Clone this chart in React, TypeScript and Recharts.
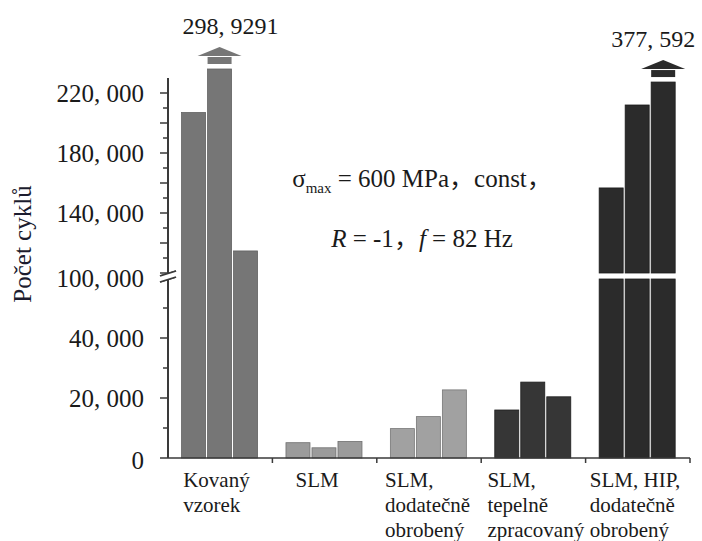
import React from 'react';
import { BarChart, Bar, XAxis, YAxis, LabelList } from 'recharts';

const categories = [
  'Kovaný\nvzorek',
  'SLM',
  'SLM,\ndodatečně\nobrobený',
  'SLM,\ntepelně\nzpracovaný',
  'SLM, HIP,\ndodatečně\nobrobený',
];

// počet cyklů, tři vzorky v každé skupině
const vzorek1 = [207000, 5100, 9800, 16000, 156700];
const vzorek2 = [298929, 3400, 13800, 25300, 212000];
const vzorek3 = [114700, 5500, 22700, 20400, 377592];

// sloupce useknuté nad horním koncem osy: kreslená výška + popisek u šipky
const useknuto2 = [236000, null, null, null, null];
const useknuto3 = [null, null, null, null, 227300];
const popisek2 = ['298, 9291', '', '', '', ''];
const popisek3 = ['', '', '', '', '377, 592'];

const majorTicks = [0, 20000, 40000, 100000, 120000, 140000, 160000, 180000, 200000, 220000];
const minorTicks = [10000, 30000, 50000, 110000, 130000, 150000, 170000, 190000, 210000];
const labeledTicks = [0, 20000, 40000, 100000, 140000, 180000, 220000];

const fills = ['#767676', '#9b9b9b', '#a1a1a1', '#363636', '#2b2b2b'];
const strokes = ['#626262', '#6f6f6f', '#777777', '#1f1f1f', '#1b1b1b'];
const hasBreak = [false, false, false, false, true];
const labelDx = [-37, -29, -44, -46, -48];
const arrowTextDx = [11, 0, 0, 0, -10];

// geometrie
const W = 702;
const H = 541;
const M_TOP = 69;
const PLOT_H = 389;
const Y_MAX = 389;
const AXIS_TOP = 380;
const AXIS_X = 168;
const PLOT_W = 522;
const X_AXIS_H = H - M_TOP - PLOT_H;
const AXIS_Y = M_TOP + PLOT_H;
const BAND = PLOT_W / categories.length;
const PX = PLOT_H / Y_MAX;
const SERIF = 'Liberation Serif, DejaVu Serif, serif';
const CJK = 'Noto Sans CJK SC, sans-serif';
const INK = '#1a1a1a';
const AXIS_COLOR = '#3a3a3a';

// přerušená osa: dole 0–60 000 (3 j./1000), nahoře od 100 000 (1,5 j./1000)
const BREAK_VALUE = 100000;
const toUnits = (v: number) => (v <= 60000 ? (v * 3) / 1000 : 185 + ((v - BREAK_VALUE) * 1.5) / 1000);
const BREAK_HI = toUnits(BREAK_VALUE);
const BREAK_LO = BREAK_HI - 6;

const fmt = (v: number) =>
  v === 0 ? '0' : `${Math.floor(v / 1000)}, ${String(v % 1000).padStart(3, '0')}`;

const tickValues = [...majorTicks, ...minorTicks];
const unitsToValue = new Map(tickValues.map((v) => [Math.round(toUnits(v) * 100), v]));

const data = categories.map((name, i) => ({
  name,
  idx: i,
  a: toUnits(vzorek1[i]),
  b: toUnits(useknuto2[i] ?? vzorek2[i]),
  c: toUnits(useknuto3[i] ?? vzorek3[i]),
  bNote: popisek2[i],
  cNote: popisek3[i],
}));

// svislá osa s přerušením (pruh od nuly po horní konec osy)
const AxisLine = () => {
  const yb = AXIS_Y - BREAK_HI * PX;
  return (
    <g>
      <rect x={AXIS_X - 1} y={AXIS_Y - AXIS_TOP * PX} width={2} height={AXIS_TOP * PX} fill={AXIS_COLOR} />
      <polygon
        points={`${AXIS_X - 8},${yb + 3} ${AXIS_X + 8},${yb - 2} ${AXIS_X + 8},${yb + 4} ${AXIS_X - 8},${yb + 9}`}
        fill="#fff"
      />
      <line x1={AXIS_X - 8} y1={yb + 3} x2={AXIS_X + 8} y2={yb - 2} stroke={AXIS_COLOR} strokeWidth={1.6} />
      <line x1={AXIS_X - 8} y1={yb + 9} x2={AXIS_X + 8} y2={yb + 4} stroke={AXIS_COLOR} strokeWidth={1.6} />
    </g>
  );
};

const renderYTick = (props: any) => {
  const y = Number(props.y);
  const units = props.payload.value;
  const v = unitsToValue.get(Math.round(units * 100)) ?? 0;
  const major = majorTicks.includes(v);
  const len = major ? 8 : 5;
  const showLabel = labeledTicks.includes(v);
  const dy = v === BREAK_VALUE ? 14 : v === 0 ? 11 : 9;
  return (
    <g>
      <line x1={AXIS_X - len} x2={AXIS_X} y1={y} y2={y} stroke={AXIS_COLOR} strokeWidth={1.5} />
      {showLabel && (
        <text x={AXIS_X - 24} y={y + dy} textAnchor="end" fontFamily={SERIF} fontSize={25} fill={INK}>
          {fmt(v)}
        </text>
      )}
      {v === 0 && <AxisLine />}
    </g>
  );
};

const renderXTick = (props: any) => {
  const x = Number(props.x);
  const { payload, index } = props;
  const lines = String(payload.value).split('\n');
  const right = x + BAND / 2;
  return (
    <g>
      <line x1={right} x2={right} y1={AXIS_Y} y2={AXIS_Y + 5} stroke={AXIS_COLOR} strokeWidth={1.5} />
      <text x={x + labelDx[index]} y={AXIS_Y + 29} fontFamily={SERIF} fontSize={21} fill={INK}>
        {lines.map((l, k) => (
          <tspan key={k} x={x + labelDx[index]} dy={k === 0 ? 0 : 25}>
            {l}
          </tspan>
        ))}
      </text>
    </g>
  );
};

const renderBar = (props: any) => {
  const { x, y, width, height, payload } = props;
  if (!height || height <= 0) return <g />;
  const i = payload.idx;
  const style = { fill: fills[i], stroke: strokes[i], strokeWidth: 0.8 };
  if (hasBreak[i] && height > BREAK_HI * PX) {
    const base = y + height;
    return (
      <g>
        <rect x={x} y={y} width={width} height={height - BREAK_HI * PX} {...style} />
        <rect x={x} y={base - BREAK_LO * PX} width={width} height={BREAK_LO * PX} {...style} />
      </g>
    );
  }
  return <rect x={x} y={y} width={width} height={height} {...style} />;
};

const arrowContent = (labels: string[]) => (p: any) => {
  if (!p.value) return null;
  const i = labels.indexOf(p.value);
  const x = Number(p.x);
  const y = Number(p.y);
  const w = Number(p.width);
  const cx = x + w / 2;
  return (
    <g>
      <rect x={x} y={y - 12} width={w} height={7} fill={fills[i]} />
      <polygon points={`${x - 10},${y - 13} ${x + w + 10},${y - 13} ${cx},${y - 22}`} fill={fills[i]} />
      <text x={cx + arrowTextDx[i]} y={y - 35} textAnchor="middle" fontFamily={SERIF} fontSize={24} fill={INK}>
        {p.value}
      </text>
      {i === 0 && <AxisLine />}
    </g>
  );
};

// název osy a poznámka o podmínkách zkoušky
const renderTexts = () => (
  <g>
    <text
      x={0}
      y={0}
      transform="translate(31, 244) rotate(-90)"
      textAnchor="middle"
      fontFamily={SERIF}
      fontSize={25}
      fill="#1c1c2e"
    >
      Počet cyklů
    </text>
    <text x={422} y={187} textAnchor="middle" fontFamily={SERIF} fontSize={25} fill={INK}>
      σ
      <tspan fontSize={15} dy={6}>max</tspan>
      <tspan dy={-6}> = 600 MPa</tspan>
      <tspan fontFamily={CJK}>，</tspan>
      <tspan>const</tspan>
      <tspan fontFamily={CJK}>，</tspan>
    </text>
    <text x={422} y={247} textAnchor="middle" fontFamily={SERIF} fontSize={25} fill={INK}>
      <tspan fontStyle="italic">R</tspan>
      <tspan> = -1</tspan>
      <tspan fontFamily={CJK}>，</tspan>
      <tspan fontStyle="italic">f</tspan>
      <tspan> = 82 Hz</tspan>
    </text>
  </g>
);

export default function App() {
  return (
    <div style={{ position: 'absolute', left: 0, top: 0, width: W, height: H }}>
      <BarChart
        width={W}
        height={H}
        data={data}
        margin={{ top: M_TOP, right: W - AXIS_X - PLOT_W, bottom: 0, left: 0 }}
        barCategoryGap="13%"
        barGap={2}
      >
        <XAxis
          dataKey="name"
          height={X_AXIS_H}
          interval={0}
          tickLine={false}
          axisLine={{ stroke: AXIS_COLOR, strokeWidth: 1.6 }}
          tick={renderXTick}
        />
        <YAxis
          type="number"
          domain={[0, Y_MAX]}
          ticks={tickValues.map(toUnits)}
          interval={0}
          width={AXIS_X}
          axisLine={false}
          tickLine={false}
          tick={renderYTick}
          label={{ content: renderTexts }}
        />
        <Bar dataKey="a" isAnimationActive={false} shape={renderBar} />
        <Bar dataKey="b" isAnimationActive={false} shape={renderBar}>
          <LabelList dataKey="bNote" content={arrowContent(popisek2)} />
        </Bar>
        <Bar dataKey="c" isAnimationActive={false} shape={renderBar}>
          <LabelList dataKey="cNote" content={arrowContent(popisek3)} />
        </Bar>
      </BarChart>
    </div>
  );
}
